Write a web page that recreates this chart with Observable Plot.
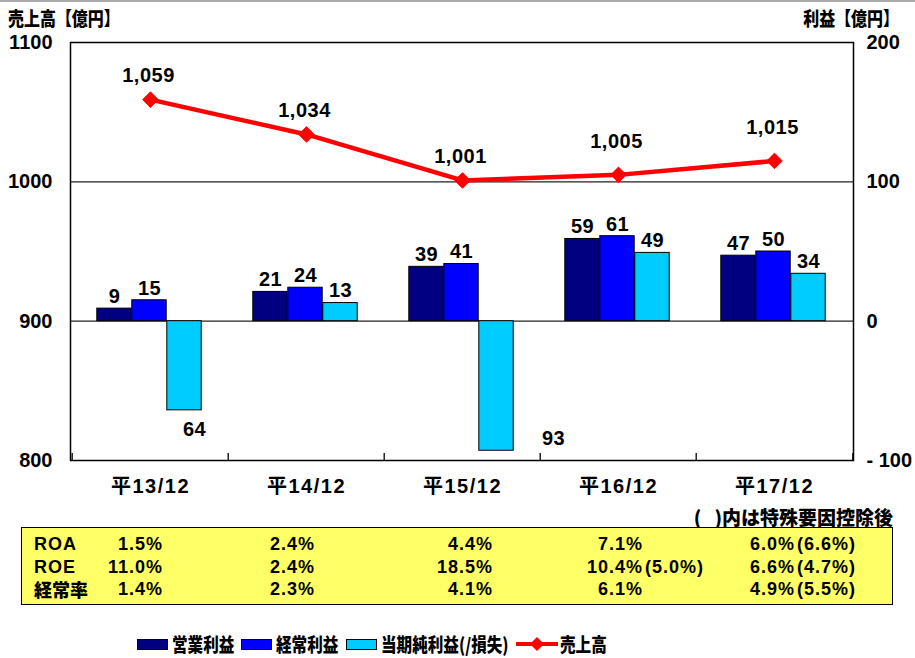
<!DOCTYPE html>
<html>
<head>
<meta charset="utf-8">
<script src="https://cdn.jsdelivr.net/npm/d3@7"></script>
<script src="https://cdn.jsdelivr.net/npm/@observablehq/plot@0.6"></script>
<style>
  body { margin: 0; background: #fff; }
  #wrap { position: relative; width: 915px; height: 658px; overflow: hidden; font-family: "Liberation Sans", "Noto Sans CJK JP", sans-serif; font-weight: bold; color: #000; }
  #wrap svg.plot { position: absolute; left: 0; top: 0; }
  .abs { position: absolute; white-space: pre; }
  .cjk { font-family: "Noto Sans CJK JP", sans-serif; font-weight: 900; }
  g[aria-label="x-axis tick label"] text { letter-spacing: 1.5px; }
  g[aria-label="text"] text { letter-spacing: 0.5px; }
  #table { position: absolute; left: 21px; top: 527px; width: 870px; height: 76px; background: #FFFF66; border: 1.5px solid #000; }
  .cell { position: absolute; font-size: 18px; letter-spacing: 1px; line-height: 22px; white-space: nowrap; }
  .sw { position: absolute; width: 29px; height: 9px; border: 1px solid #000; }
</style>
</head>
<body>
<div id="wrap"></div>
<script>
// ---- data ----
const categories = ["平13/12", "平14/12", "平15/12", "平16/12", "平17/12"];
const seriesNames = ["営業利益", "経常利益", "当期純利益(/損失)"];
const operating = [9, 21, 39, 59, 47];
const ordinary = [15, 24, 41, 61, 50];
const net = [-64, 13, -93, 49, 34];
const sales = [1059, 1034, 1001, 1005, 1015];
const salesTicks = [800, 900, 1000, 1100];
const profitTicks = [-100, 0, 100, 200];
const tableRows = ["ROA", "ROE", "経常率"];
const roa = ["1.5%", "2.4%", "4.4%", "7.1%", "6.0%"];
const roaAdj = ["", "", "", "", "(6.6%)"];
const roe = ["11.0%", "2.4%", "18.5%", "10.4%", "6.6%"];
const roeAdj = ["", "", "", "(5.0%)", "(4.7%)"];
const ordRate = ["1.4%", "2.3%", "4.1%", "6.1%", "4.9%"];
const ordRateAdj = ["", "", "", "", "(5.5%)"];
const tableNote = "(   )内は特殊要因控除後";
const colors = ["#000080", "#0000FF", "#00CCFF"];
const lineColor = "#FF0000";

// ---- layout ----
const W = 915, H = 510, mL = 70, mR = 62, mT = 42, mB = 50;
const bw = (W - mL - mR) / categories.length;
const barW = 35;
const inset = (bw - barW) / 2;
const offsets = [-36, -1, 34];
const OFFSET = 900; // sales axis = profit axis + 900

const seriesValues = [operating, ordinary, net];
const bars = seriesValues.map((vals, s) => categories.map((c, i) => ({cat: c, value: vals[i], s, i})));
const lineData = categories.map((c, i) => ({cat: c, sales: sales[i], i}));

const font = "Liberation Sans, Noto Sans CJK JP, sans-serif";
const marks = [];

// gridlines
marks.push(Plot.ruleY([0, 100], {stroke: "#222", strokeWidth: 1.3}));
// category boundary ticks
marks.push(Plot.ruleX(categories, {x: d => d, dx: -bw / 2, y1: -100, y2: -95, stroke: "#000", strokeWidth: 1.3}));
marks.push(Plot.ruleX([categories[categories.length - 1]], {x: d => d, dx: bw / 2, y1: -100, y2: -95, stroke: "#000", strokeWidth: 1.3}));

// bars
bars.forEach((rows, s) => {
  marks.push(Plot.barY(rows, {x: "cat", y: "value", fill: colors[s], stroke: "#000", strokeWidth: 1,
    insetLeft: inset, insetRight: inset, dx: offsets[s]}));
  marks.push(Plot.text(rows.filter(d => d.value >= 0), {x: "cat", y: "value", text: d => String(d.value),
    dx: offsets[s], dy: -12, fontSize: 20, fontWeight: "bold", fontFamily: font, fill: "#000"}));
});
// negative labels (shown without sign)
marks.push(Plot.text(bars[2].filter(d => d.value < 0 && d.i === 0), {x: "cat", y: "value", text: d => String(Math.abs(d.value)),
  dx: 44, dy: 19, fontSize: 20, fontWeight: "bold", fontFamily: font, fill: "#000"}));
marks.push(Plot.text(bars[2].filter(d => d.value < 0 && d.i === 2), {x: "cat", y: "value", text: d => String(Math.abs(d.value)),
  dx: 91, dy: -12, fontSize: 20, fontWeight: "bold", fontFamily: font, fill: "#000"}));

// frame
marks.push(Plot.frame({stroke: "#000", strokeWidth: 1.5}));

// sales line
marks.push(Plot.line(lineData, {x: "cat", y: d => d.sales - OFFSET, stroke: lineColor, strokeWidth: 4.5}));
marks.push(Plot.dot(lineData, {x: "cat", y: d => d.sales - OFFSET, symbol: "diamond2", r: 7, fill: lineColor, stroke: lineColor, strokeWidth: 1}));
marks.push(Plot.text(lineData.filter(d => d.i < 3), {x: "cat", y: d => d.sales - OFFSET, text: d => d3.format(",")(d.sales),
  dy: -24, dx: -2, fontSize: 20, fontWeight: "bold", fontFamily: font, fill: "#000"}));
marks.push(Plot.text(lineData.filter(d => d.i >= 3), {x: "cat", y: d => d.sales - OFFSET, text: d => d3.format(",")(d.sales),
  dy: -33, dx: -2, fontSize: 20, fontWeight: "bold", fontFamily: font, fill: "#000"}));

// axes
marks.push(Plot.axisY(salesTicks.map(t => t - OFFSET), {anchor: "left", tickSize: 0, tickPadding: 18, tickFormat: d => String(d + OFFSET),
  label: null, fontSize: 20, fontWeight: "bold", fontFamily: font}));
marks.push(Plot.axisY(profitTicks, {anchor: "right", tickSize: 0, tickPadding: 13, textAnchor: "start", tickFormat: d => d < 0 ? "- " + Math.abs(d) : String(d),
  label: null, fontSize: 20, fontWeight: "bold", fontFamily: font}));
marks.push(Plot.axisX({anchor: "bottom", tickSize: 0, tickPadding: 18, label: null, fontSize: 20, fontWeight: "bold", fontFamily: font}));

const chart = Plot.plot({
  width: W, height: H,
  marginLeft: mL, marginRight: mR, marginTop: mT, marginBottom: mB,
  style: {fontFamily: font, fontWeight: "bold", fontSize: "20px", color: "#000", background: "transparent", overflow: "visible"},
  x: {type: "band", domain: categories, padding: 0, axis: null},
  y: {domain: [-100, 200], axis: null},
  marks
});
chart.classList.add("plot");

const wrap = document.getElementById("wrap");
wrap.appendChild(chart);

// top grey rule
const topRule = document.createElement("div");
topRule.className = "abs";
topRule.style.cssText = "left:0;top:0;width:915px;height:0;border-top:2px solid #aaa;";
wrap.appendChild(topRule);

function addText(txt, css, cls) {
  const el = document.createElement("div");
  el.className = "abs " + (cls || "");
  el.textContent = txt;
  el.style.cssText += css;
  wrap.appendChild(el);
  return el;
}
// axis titles
addText("売上高【億円】", "left:8px;top:6px;font-size:19px;line-height:24px;transform:scaleX(0.84);transform-origin:left center;", "cjk");
addText("利益【億円】", "right:16px;top:6px;font-size:19px;line-height:24px;transform:scaleX(0.84);transform-origin:right center;", "cjk");

// note
addText(tableNote, "right:22px;top:505px;font-size:19px;line-height:24px;", "cjk");

// table
const table = document.createElement("div");
table.id = "table";
wrap.appendChild(table);
const mainRight = [163, 315, 493, 643, 795];
const rowsMain = [roa, roe, ordRate];
const rowsAdj = [roaAdj, roeAdj, ordRateAdj];
const rowTop = [5, 28, 50];
tableRows.forEach((lab, r) => {
  const l = document.createElement("div");
  l.className = "cell" + (r === 2 ? " cjk" : "");
  l.textContent = lab;
  l.style.left = (33 - 21) + "px";
  l.style.top = rowTop[r] + "px";
  if (r === 2) { l.style.letterSpacing = "0px"; l.style.fontSize = "18px"; }
  table.appendChild(l);
  rowsMain[r].forEach((v, c) => {
    const m = document.createElement("div");
    m.className = "cell";
    m.textContent = v;
    m.style.right = (21 + 872 - mainRight[c] - 1) + "px";
    m.style.top = rowTop[r] + "px";
    table.appendChild(m);
    if (rowsAdj[r][c]) {
      const a = document.createElement("div");
      a.className = "cell";
      a.textContent = rowsAdj[r][c];
      a.style.left = (mainRight[c] + 1 - 21) + "px";
      a.style.top = rowTop[r] + "px";
      table.appendChild(a);
    }
  });
});

// legend
const legX = [137, 241, 346];
const legTextX = [172, 276, 381];
seriesNames.forEach((n, s) => {
  const sw = document.createElement("div");
  sw.className = "sw";
  sw.style.left = legX[s] + "px";
  sw.style.top = "639px";
  sw.style.background = colors[s];
  wrap.appendChild(sw);
  addText(n, `left:${legTextX[s]}px;top:632px;font-size:19px;line-height:24px;transform:scaleX(0.82);transform-origin:left center;`, "cjk");
});
const ls = d3.create("svg").attr("width", 44).attr("height", 20)
  .style("position", "absolute").style("left", "515px").style("top", "634px");
ls.append("line").attr("x1", 1).attr("x2", 43).attr("y1", 10).attr("y2", 10).attr("stroke", lineColor).attr("stroke-width", 4);
ls.append("path").attr("d", "M22,3L29,10L22,17L15,10Z").attr("fill", lineColor);
wrap.appendChild(ls.node());
addText("売上高", "left:560px;top:632px;font-size:19px;line-height:24px;transform:scaleX(0.82);transform-origin:left center;", "cjk");
</script>
</body>
</html>
